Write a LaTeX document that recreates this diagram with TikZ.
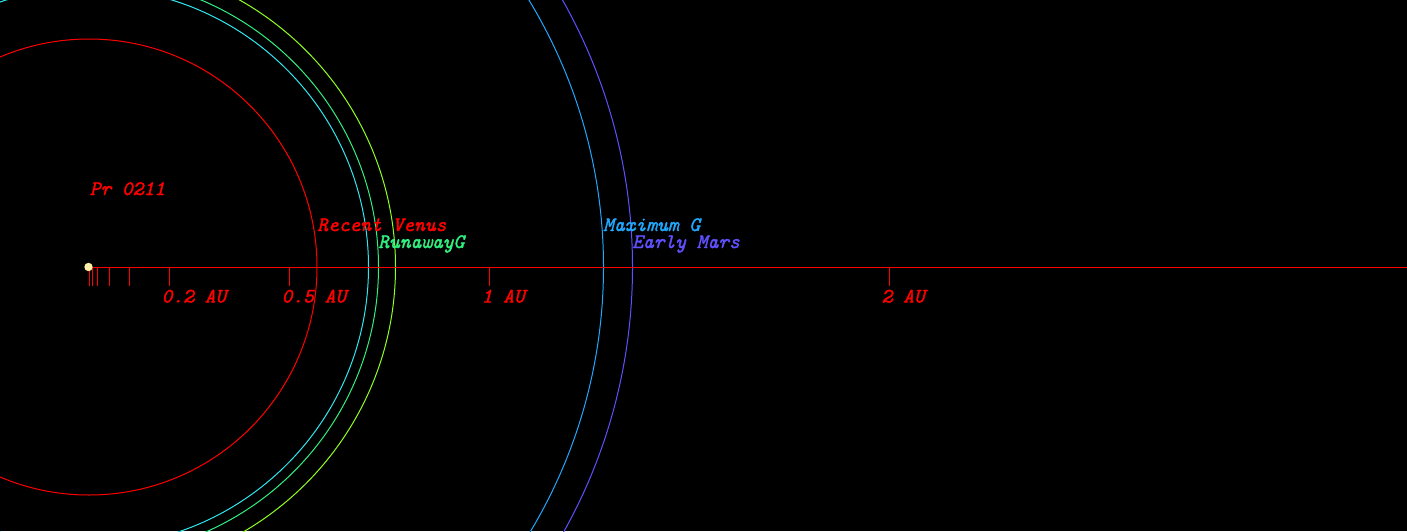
\documentclass[tikz,border=0pt]{standalone}
\usepackage{fontspec}
\newfontface\lblfont{lmmono10-italic.otf}[FakeBold=1.6]
\begin{document}
\begin{tikzpicture}[x=1pt,y=-1pt,
  lbl/.style={anchor=base west,inner sep=0pt,font=\lblfont\fontsize{20.5}{20.5}\selectfont},
  orbit/.style={line width=1pt},
  tick/.style={draw=red,line width=1pt}]
\definecolor{cyanorb}{HTML}{30E8F0}
\definecolor{greenorb}{HTML}{30F080}
\definecolor{yelorb}{HTML}{90FF20}
\definecolor{blueorb}{HTML}{20A8FF}
\definecolor{purporb}{HTML}{6050FF}
\definecolor{startcol}{HTML}{FFF0A8}
\fill[black] (0,0) rectangle (1407,531);
\useasboundingbox (0,0) rectangle (1407,531);
\clip (0,0) rectangle (1407,531);
\coordinate (star) at (89,267);
% orbits
\draw[orbit,red] (star) circle (228);
\draw[orbit,cyanorb] (star) circle (279.5);
\draw[orbit,greenorb] (star) circle (289.5);
\draw[orbit,yelorb] (star) circle (306.5);
\draw[orbit,blueorb] (star) circle (514.5);
\draw[orbit,purporb] (star) circle (543.5);
% axis
\coordinate (axisend) at (1407,267);
\draw[tick] (star) -- (axisend);
\foreach \a in {0,0.01,0.02,0.05,0.1,0.2,0.5,1,2}{
  \draw[tick] ({89+400*\a},267) -- ({89+400*\a},285.5);
}
% star
\fill[startcol] (88.5,267) circle (4.2);
% labels
\node[lbl,red] (l02) at (161.5,302.5) {0.2 AU};
\node[lbl,red] (l05) at (281.5,302.5) {0.5 AU};
\node[lbl,red] (l1) at (481.5,302.5) {1 AU};
\node[lbl,red] (l2) at (881.5,302.5) {2 AU};
\node[lbl,red] (pr) at (89.5,195) {Pr 0211};
\node[lbl,red] (rv) at (317,231) {Recent Venus};
\node[lbl,greenorb] (rg) at (378,248) {RunawayG};
\node[lbl,blueorb] (mg) at (603,231) {Maximum G};
\node[lbl,purporb] (em) at (632,248) {Early Mars};
\end{tikzpicture}
\end{document}
